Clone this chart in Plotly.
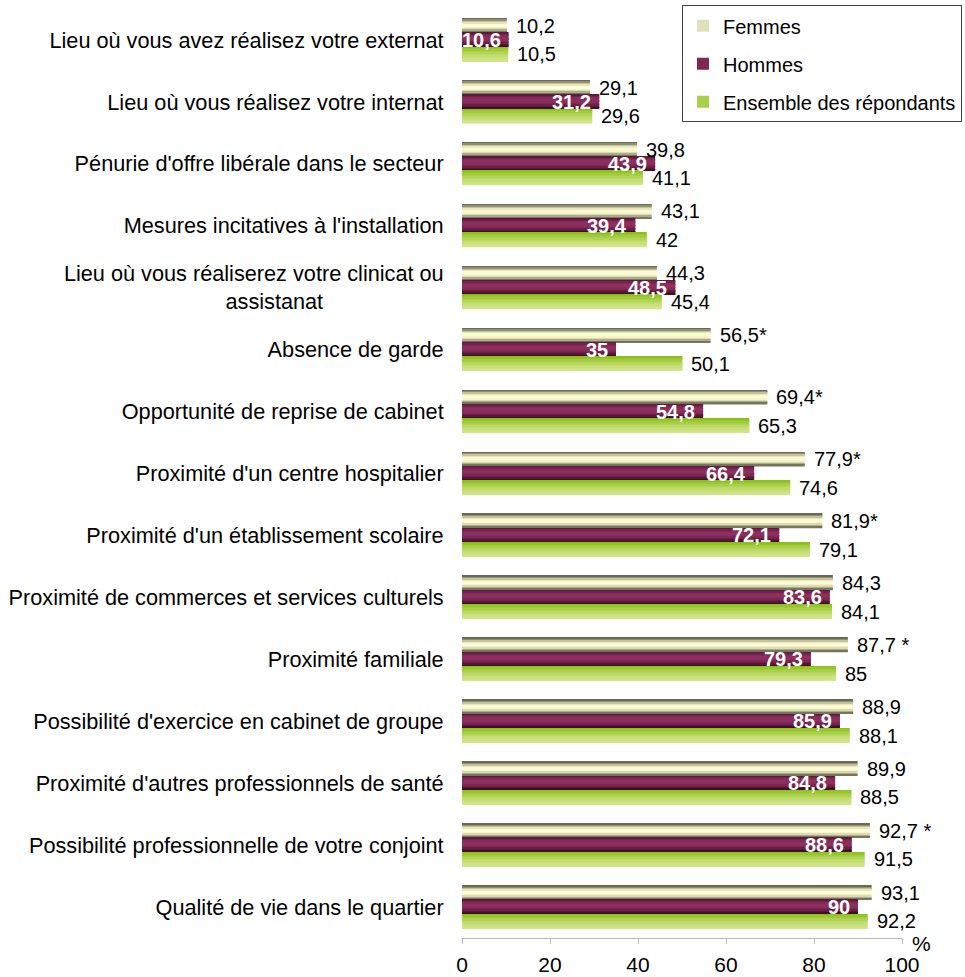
import plotly.graph_objects as go

# Reasons for choosing where to set up practice (% of respondents)
categories = [
    "Lieu où vous avez réalisez votre externat",
    "Lieu où vous réalisez votre internat",
    "Pénurie d'offre libérale dans le secteur",
    "Mesures incitatives à l'installation",
    "Lieu où vous réaliserez votre clinicat ou<br>assistanat" + "\u00a0" * 20,
    "Absence de garde",
    "Opportunité de reprise de cabinet",
    "Proximité d'un centre hospitalier",
    "Proximité d'un établissement scolaire",
    "Proximité de commerces et services culturels",
    "Proximité familiale",
    "Possibilité d'exercice en cabinet de groupe",
    "Proximité d'autres professionnels de santé",
    "Possibilité professionnelle de votre conjoint",
    "Qualité de vie dans le quartier",
]
femmes = [10.2, 29.1, 39.8, 43.1, 44.3, 56.5, 69.4, 77.9, 81.9, 84.3, 87.7, 88.9, 89.9, 92.7, 93.1]
femmes_note = ["", "", "", "", "", "*", "*", "*", "*", "", " *", "", "", " *", ""]
hommes = [10.6, 31.2, 43.9, 39.4, 48.5, 35, 54.8, 66.4, 72.1, 83.6, 79.3, 85.9, 84.8, 88.6, 90]
ensemble = [10.5, 29.6, 41.1, 42, 45.4, 50.1, 65.3, 74.6, 79.1, 84.1, 85, 88.1, 88.5, 91.5, 92.2]
x_ticks = [0, 20, 40, 60, 80, 100]

FONT = "Liberation Sans, Arial, sans-serif"
BAR_W = 0.231

# Shaded stripes (top to bottom) giving each bar its cylinder-like look
series = [
    ("Femmes", femmes, ["#6a6a52", "#929176", "#c3c29f", "#e7e6bd", "#fbfad0", "#fffed6",
                        "#f6f4c9", "#dcdab2", "#acab8c", "#76755d"], "#e2e0b6"),
    ("Hommes", hommes, ["#5a1b3d", "#72244c", "#852b58", "#8e2e5e", "#8f2f5f", "#8a2c5b",
                        "#7e2753", "#6c2048", "#561838", "#3f0f29"], "#7f2752"),
    ("Ensemble des répondants", ensemble, ["#8cc11c", "#96c62b", "#a0cb3b", "#aad049", "#b3d557",
                                           "#bbd964", "#c2dd70", "#c8e07a", "#cde382", "#d0e587"], "#a9d04a"),
]

ypos = list(range(len(categories)))
fig = go.Figure()

for s_idx, (name, vals, stripes, legend_col) in enumerate(series):
    base = -1.5 * BAR_W + s_idx * BAR_W
    n = len(stripes)
    sw = BAR_W / n
    for k, col in enumerate(stripes):
        fig.add_trace(go.Bar(
            x=vals, y=ypos, orientation="h",
            width=sw * 1.02, offset=base + k * sw,
            marker=dict(color=col, line=dict(width=0)),
            name=name, legendgroup=name, showlegend=False,
            hoverinfo="skip",
        ))
    # legend entry
    fig.add_trace(go.Bar(
        x=[None], y=[None], orientation="h", name=name, legendgroup=name,
        marker=dict(color=legend_col, line=dict(width=0)), showlegend=True,
    ))

# Value labels
def fmt(v):
    return f"{v:g}".replace(".", ",")

ann = []
for i in ypos:
    ann.append(dict(x=femmes[i], y=i - BAR_W, text=fmt(femmes[i]) + femmes_note[i],
                    xanchor="left", yanchor="middle", xshift=7, showarrow=False,
                    font=dict(family=FONT, size=20, color="black")))
    ann.append(dict(x=hommes[i], y=i, text="<b>" + fmt(hommes[i]) + "</b>",
                    xanchor="right", yanchor="middle", xshift=-6, showarrow=False,
                    font=dict(family=FONT, size=20, color="white")))
    ann.append(dict(x=ensemble[i], y=i + BAR_W, text=fmt(ensemble[i]),
                    xanchor="left", yanchor="middle", xshift=7, showarrow=False,
                    font=dict(family=FONT, size=20, color="black")))

ann.append(dict(x=1.045, y=-0.006, xref="paper", yref="paper", text="%", showarrow=False,
                xanchor="center", yanchor="middle", font=dict(family=FONT, size=21, color="black")))

fig.update_layout(
    width=965, height=977,
    margin=dict(l=462, r=63, t=9, b=39, autoexpand=False),
    paper_bgcolor="white", plot_bgcolor="white",
    barmode="overlay",
    showlegend=True,
    legend=dict(x=0.5, y=1.004, xanchor="left", yanchor="top",
                bordercolor="#404040", borderwidth=1, bgcolor="white",
                font=dict(family=FONT, size=20, color="black"),
                traceorder="grouped", tracegroupgap=9),
    annotations=ann,
    xaxis=dict(range=[0, 100], tickvals=x_ticks, ticktext=[str(t) for t in x_ticks],
               showgrid=False, zeroline=False, showline=True, linecolor="#b8b8b8", linewidth=1,
               ticks="outside", ticklen=5, tickcolor="#b8b8b8", ticklabelstandoff=3,
               tickfont=dict(family=FONT, size=21, color="black")),
    yaxis=dict(range=[len(categories) - 0.5, -0.5], tickvals=ypos, ticktext=categories,
               showgrid=False, zeroline=False, showline=False,
               ticks="outside", ticklen=13, tickcolor="rgba(0,0,0,0)",
               tickfont=dict(family=FONT, size=21.7, color="black")),
)

fig.write_html("out.html")
